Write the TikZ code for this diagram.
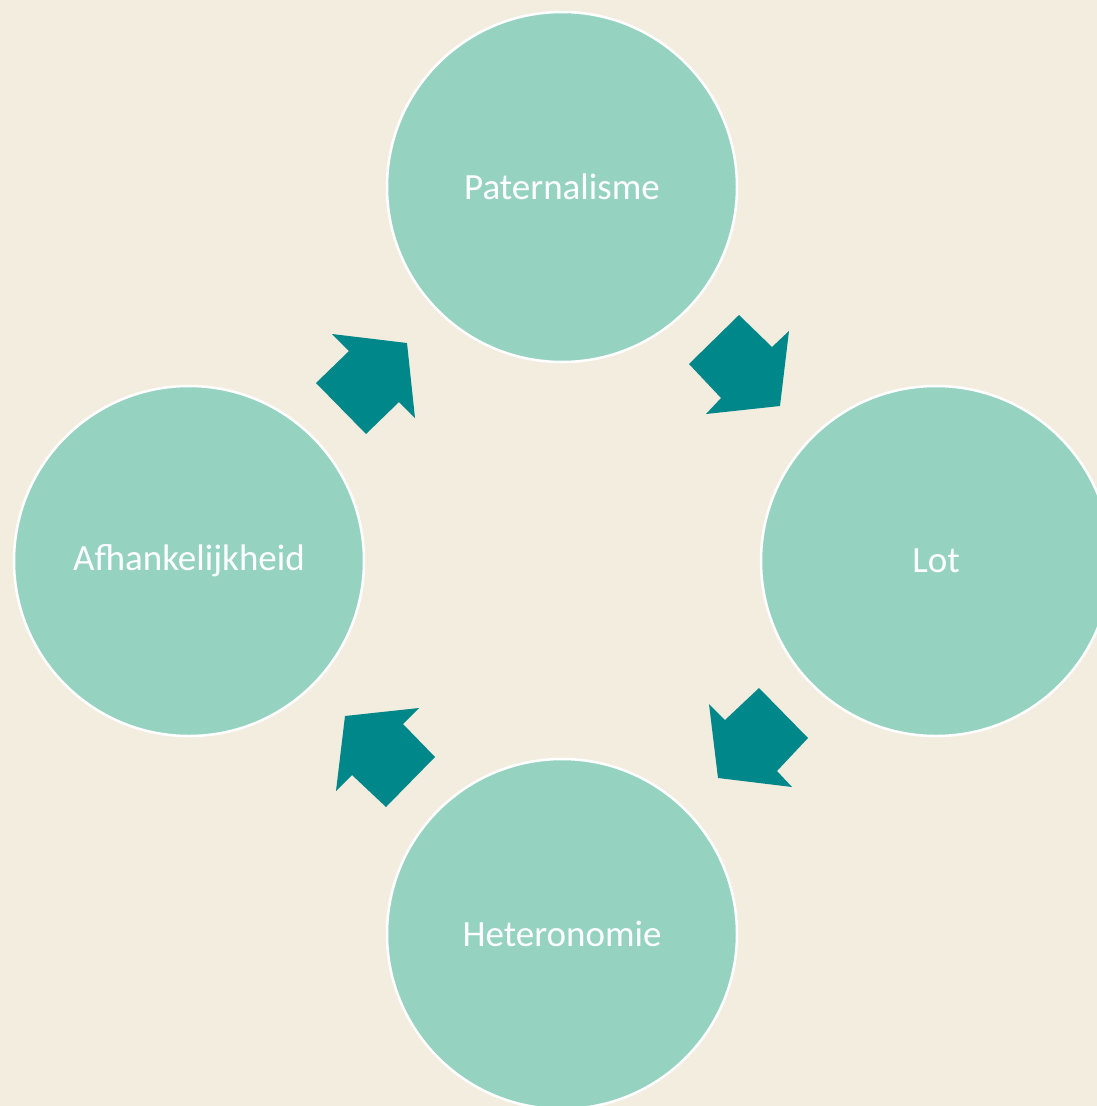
\documentclass[tikz,border=0pt]{standalone}
\usepackage{fontspec}
\setmainfont{Carlito}
\definecolor{bgcol}{HTML}{F3EDE0}
\definecolor{circfill}{HTML}{95D3C0}
\definecolor{arrowcol}{HTML}{00878A}
\tikzset{
  stage/.style={circle, fill=circfill, draw=white, line width=2.5pt, minimum size=350pt, inner sep=0pt,
    text=white, font=\fontsize{37}{44}\selectfont},
  blockarrow/.style={fill=arrowcol, draw=none}
}
\begin{document}
\begin{tikzpicture}[x=1pt,y=-1pt]
  \clip (0,0) rectangle (1097,1106);
  \fill[bgcol] (0,0) rectangle (1097,1106);
  \node[stage] (pat) at (562,187) {Paternalisme};
  \node[stage] (lot) at (936,561) {Lot};
  \node[stage] (het) at (562,934) {Heteronomie};
  \node[stage] (afh) at (189,561) {Afhankelijkheid};
  % arrow paternalisme -> lot
  \fill[blockarrow] (739,315) -- (772,347) -- (789,331) -- (780,406) -- (706,414) -- (721,398) -- (689,364) -- cycle;
  % arrow lot -> heteronomie
  \fill[blockarrow] (709,704) -- (725,720) -- (759,688) -- (808,738) -- (777,771) -- (792,787) -- (718,778) -- cycle;
  % arrow heteronomie -> afhankelijkheid
  \fill[blockarrow] (345,716) -- (419,708) -- (403,724) -- (435,757) -- (386,807) -- (352,775) -- (336,791) -- cycle;
  % arrow afhankelijkheid -> paternalisme
  \fill[blockarrow] (332,334) -- (407,343) -- (415,418) -- (399,402) -- (366,434) -- (316,383) -- (349,351) -- cycle;
\end{tikzpicture}
\end{document}
